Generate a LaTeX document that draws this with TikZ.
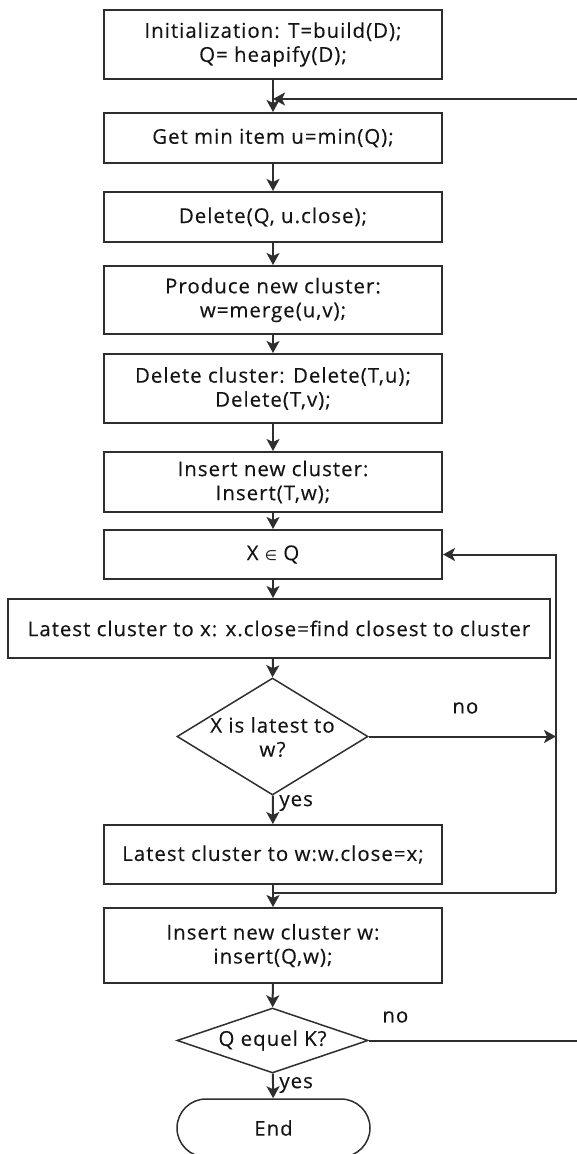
\documentclass[tikz,border=0pt]{standalone}
\usepackage{fontspec}
\setmainfont[LetterSpace=5,FakeBold=0.3]{Open Sans}
\newfontfamily\symfont{DejaVu Sans}
\usetikzlibrary{shapes.geometric,shapes.misc,arrows.meta}
\definecolor{lc}{HTML}{2E2E2E}
\definecolor{tx}{HTML}{141414}
\tikzset{
 box/.style={draw=lc, line width=1pt, rectangle, minimum width=169pt, inner sep=0pt, align=center, text=tx, font=\fontsize{10.2}{12}\selectfont},
 dia/.style={draw=lc, line width=0.75pt, diamond, inner sep=0pt, minimum width=95.5pt},
 lbl/.style={text=tx, font=\fontsize{10.2}{12}\selectfont, inner sep=0pt, align=center},
 arr/.style={draw=lc, line width=1pt, -{Stealth[length=6pt,width=6.5pt,inset=1.5pt]}},
 plain/.style={draw=lc, line width=1pt},
}
\begin{document}
\begin{tikzpicture}[x=0.5pt,y=-0.5pt]
\useasboundingbox (0,0) rectangle (577,1154);
\node[box, minimum height=34.5pt] (b1) at (273,44.5) {Initialization: T=build(D);\\Q= heapify(D);};
\node[box, minimum height=25pt] (b2) at (273,138) {Get min item u=min(Q);};
\node[box, minimum height=25pt] (b3) at (273,217) {Delete(Q, u.close);};
\node[box, minimum height=34pt] (b4) at (273,300) {Produce new cluster:\\w=merge(u,v);};
\node[box, minimum height=34.5pt] (b5) at (273,388.5) {Delete cluster: Delete(T,u);\\Delete(T,v);};
\node[box, minimum height=30pt] (b6) at (273,482) {Insert new cluster:\\Insert(T,w);};
\node[box, minimum height=24.5pt] (b7) at (273,554.5) {X {\symfont\fontsize{7}{8}\selectfont ∈} Q};
\node[box, minimum width=271pt, minimum height=29.5pt] (b8) at (279,628.5) {Latest cluster to x: x.close=find closest to cluster};
\node[dia, minimum height=58.5pt] (d1) at (272.5,736.5) {};
\node[lbl] (d1t) at (272.5,737) {X is latest to\\w?};
\node[box, minimum height=29.5pt] (b9) at (273,854.5) {Latest cluster to w:w.close=x;};
\node[box, minimum height=37.5pt] (b10) at (273,945.5) {Insert new cluster w:\\insert(Q,w);};
\node[dia, minimum height=32.5pt] (d2) at (272.5,1040.5) {};
\node[lbl] (d2t) at (272.5,1040.5) {Q equel K?};
\node[draw=lc, line width=0.75pt, rounded rectangle, minimum width=96.5pt, minimum height=29pt, inner sep=0pt, text=tx, font=\fontsize{10.2}{12}\selectfont] (e) at (273.5,1128) {End};
% labels
\node[lbl, anchor=west] (no1) at (452,708) {no};
\node[lbl, anchor=west] (no2) at (382,1017) {no};
\node[lbl, anchor=west] (yes1) at (279,803) {yes};
\node[lbl, anchor=west] (yes2) at (279,1085) {yes};
% coordinates
\coordinate (rt) at (577,99);
\coordinate (rb) at (577,1040.5);
\coordinate (lt) at (556,554.5);
\coordinate (lb) at (556,893);
% main flow
\draw[arr] (b1) -- (b2);
\draw[arr] (rt) -- (b1.south |- rt);
\draw[arr] (b2) -- (b3);
\draw[arr] (b3) -- (b4);
\draw[arr] (b4) -- (b5);
\draw[arr] (b5) -- (b6);
\draw[arr] (b6) -- (b7);
\draw[arr] (b7.south) -- (b7.south |- b8.north);
\draw[arr] (b7.south |- b8.south) -- (d1.north);
\draw[arr] (d1.east) -- (d1.east -| lb);
\draw[arr] (lb) -- (lt) -- (b7.east);
\draw[plain] (lb) -- (b9.south |- lb);
\draw[arr] (d1) -- (b9);
\draw[arr] (b9) -- (b10);
\draw[arr] (b10) -- (d2);
\draw[plain] (d2.east) -- (rb);
\draw[arr] (d2) -- (e);
\end{tikzpicture}
\end{document}
